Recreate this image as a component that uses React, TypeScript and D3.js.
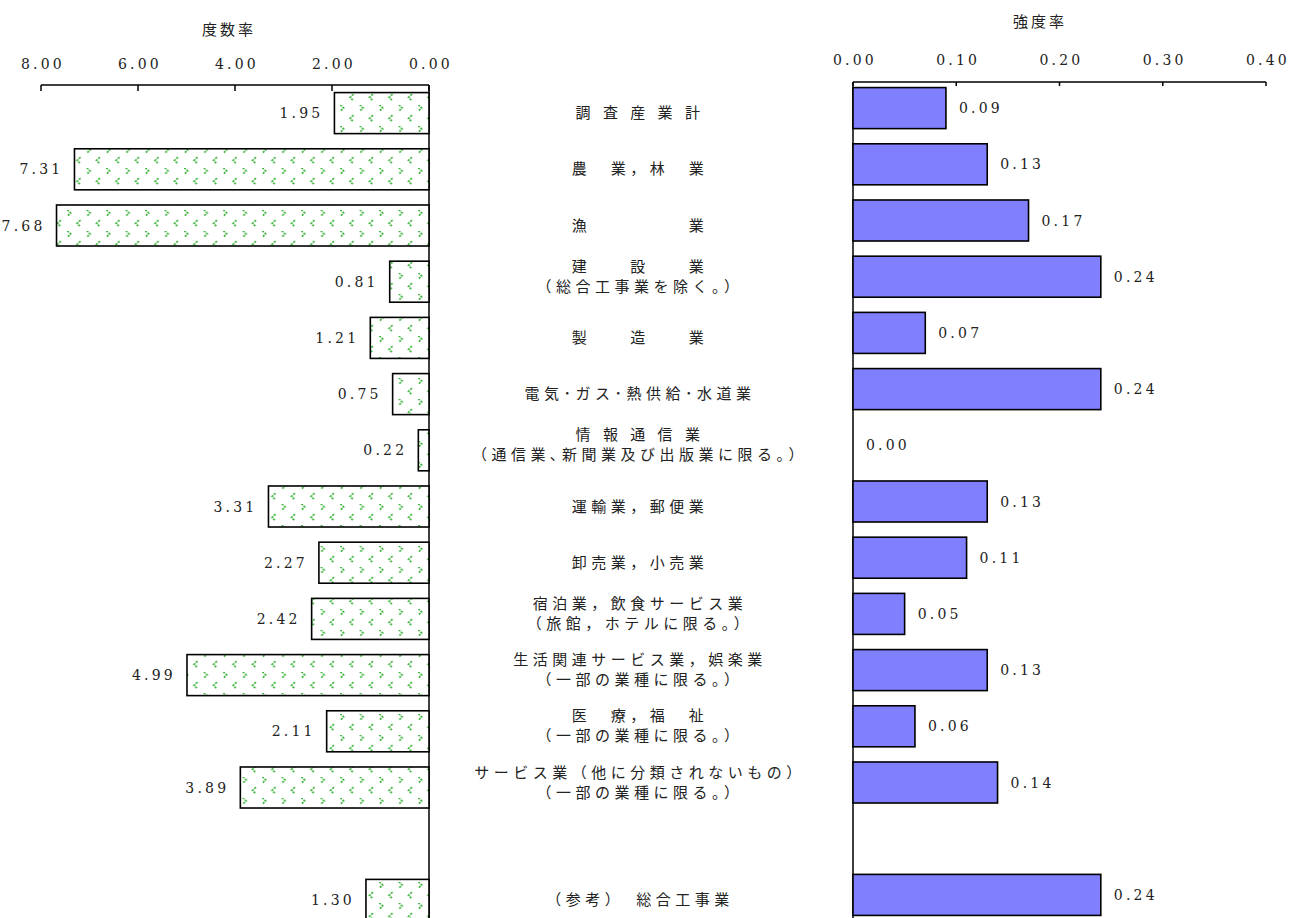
import React from "react";
import * as d3 from "d3";

const categories = [
  "調 査 産 業 計",
  "農　業，林　業",
  "漁　　　　　業",
  "建　　設　　業\n（総合工事業を除く。）",
  "製　　造　　業",
  "電気･ガス･熱供給･水道業",
  "情 報 通 信 業\n（通信業､新聞業及び出版業に限る。）",
  "運輸業，郵便業",
  "卸売業，小売業",
  "宿泊業，飲食サービス業\n（旅館，ホテルに限る。）",
  "生活関連サービス業，娯楽業\n（一部の業種に限る。）",
  "医　療，福　祉\n（一部の業種に限る。）",
  "サービス業（他に分類されないもの）\n（一部の業種に限る。）",
  "（参考）　総合工事業",
];
const frequencyRates = [1.95, 7.31, 7.68, 0.81, 1.21, 0.75, 0.22, 3.31, 2.27, 2.42, 4.99, 2.11, 3.89, 1.3];
const severityRates = [0.09, 0.13, 0.17, 0.24, 0.07, 0.24, 0.0, 0.13, 0.11, 0.05, 0.13, 0.06, 0.14, 0.24];
const frequencyTicks = [8, 6, 4, 2, 0];
const severityTicks = [0, 0.1, 0.2, 0.3, 0.4];
const leftTitle = "度数率";
const rightTitle = "強度率";
const GAP_KEY = "__gap";

const W = 1291;
const H = 918;
const NUM_FONT = "'DejaVu Serif', 'Liberation Serif', serif";
const JP_FONT = "'Noto Sans CJK JP', sans-serif";

export default function App() {
  const keys = categories.map((_, i) => String(i));
  const domain = [...keys.slice(0, 13), GAP_KEY, ...keys.slice(13)];

  const y = d3.scaleBand<string>().domain(domain).range([85, 928]).paddingInner(0.27).paddingOuter(0.135);
  const rightShift = -5;

  const xL = d3.scaleLinear().domain([0, 8]).range([429, 41]);
  const xR = d3.scaleLinear().domain([0, 0.4]).range([853, 1266]);

  const leftAxisY = 85;
  const rightAxisY = 82;

  const fmt = d3.format(".2f");
  const numStyle = { fontFamily: NUM_FONT, fontSize: 14, letterSpacing: 3.2, fill: "#222" } as const;

  return (
    <svg width={W} height={H} style={{ position: "absolute", left: 0, top: 0, background: "#fff" }}>
      <defs>
        <pattern id="chev" patternUnits="userSpaceOnUse" x={8.5} y={0} width={19.5} height={21}>
          <rect width={19.5} height={21} fill="#fff" />
          <path d="M0.3 -0.3 L3.6 3 L0.3 6.3" fill="none" stroke="#39b239" strokeWidth={1.7} strokeDasharray="2 1.2" />
          <path d="M13.4 10.2 L10.1 13.5 L13.4 16.8" fill="none" stroke="#39b239" strokeWidth={1.7} strokeDasharray="2 1.2" />
        </pattern>
      </defs>

      {/* Titles */}
      <text x={229} y={35} textAnchor="middle" fontFamily={JP_FONT} fontSize={15} letterSpacing={3} fill="#222">
        {leftTitle}
      </text>
      <text x={1040} y={27} textAnchor="middle" fontFamily={JP_FONT} fontSize={15} letterSpacing={3} fill="#222">
        {rightTitle}
      </text>

      {/* Left axis */}
      <line x1={xL(8)} x2={xL(0)} y1={leftAxisY} y2={leftAxisY} stroke="#000" strokeWidth={1.5} />
      {frequencyTicks.map((t) => (
        <g key={"lt" + t}>
          <line x1={xL(t)} x2={xL(t)} y1={leftAxisY} y2={leftAxisY + 6} stroke="#000" strokeWidth={1.5} />
          <text x={xL(t) + 2} y={69} textAnchor="middle" {...numStyle}>
            {fmt(t)}
          </text>
        </g>
      ))}
      <line x1={xL(0)} x2={xL(0)} y1={leftAxisY} y2={H} stroke="#000" strokeWidth={1.5} />

      {/* Right axis */}
      <line x1={xR(0)} x2={xR(0.4)} y1={rightAxisY} y2={rightAxisY} stroke="#000" strokeWidth={1.5} />
      {severityTicks.map((t) => (
        <g key={"rt" + t}>
          <line x1={xR(t)} x2={xR(t)} y1={rightAxisY} y2={rightAxisY + 4} stroke="#000" strokeWidth={1.5} />
          <text x={xR(t) + 2} y={65} textAnchor="middle" {...numStyle}>
            {fmt(t)}
          </text>
        </g>
      ))}
      <line x1={xR(0)} x2={xR(0)} y1={rightAxisY} y2={H} stroke="#000" strokeWidth={1.5} />

      {/* Bars */}
      {categories.map((cat, i) => {
        const k = keys[i];
        const by = y(k)!;
        const bh = y.bandwidth();
        const cy = by + bh / 2;
        const f = frequencyRates[i];
        const s = severityRates[i];
        const lines = cat.split("\n");
        return (
          <g key={k}>
            <rect
              x={xL(f)}
              y={by}
              width={xL(0) - xL(f)}
              height={bh}
              fill="url(#chev)"
              stroke="#000"
              strokeWidth={1.6}
            />
            <text x={xL(f) - 11} y={cy + 5} textAnchor="end" {...numStyle}>
              {fmt(f)}
            </text>

            {s > 0 && (
              <rect
                x={xR(0)}
                y={by + rightShift}
                width={xR(s) - xR(0)}
                height={bh}
                fill="#8080ff"
                stroke="#000"
                strokeWidth={1.6}
              />
            )}
            <text x={xR(s) + 13} y={cy + rightShift + 5} textAnchor="start" {...numStyle}>
              {fmt(s)}
            </text>

            {lines.length === 1 ? (
              <text x={640} y={cy + 5} textAnchor="middle" fontFamily={JP_FONT} fontSize={15} letterSpacing={4.5} fill="#222">
                {lines[0]}
              </text>
            ) : (
              lines.map((ln, j) => (
                <text
                  key={j}
                  x={640}
                  y={cy - 10 + j * 20}
                  textAnchor="middle"
                  fontFamily={JP_FONT}
                  fontSize={15}
                  letterSpacing={4.5}
                  fill="#222"
                >
                  {ln}
                </text>
              ))
            )}
          </g>
        );
      })}
    </svg>
  );
}
